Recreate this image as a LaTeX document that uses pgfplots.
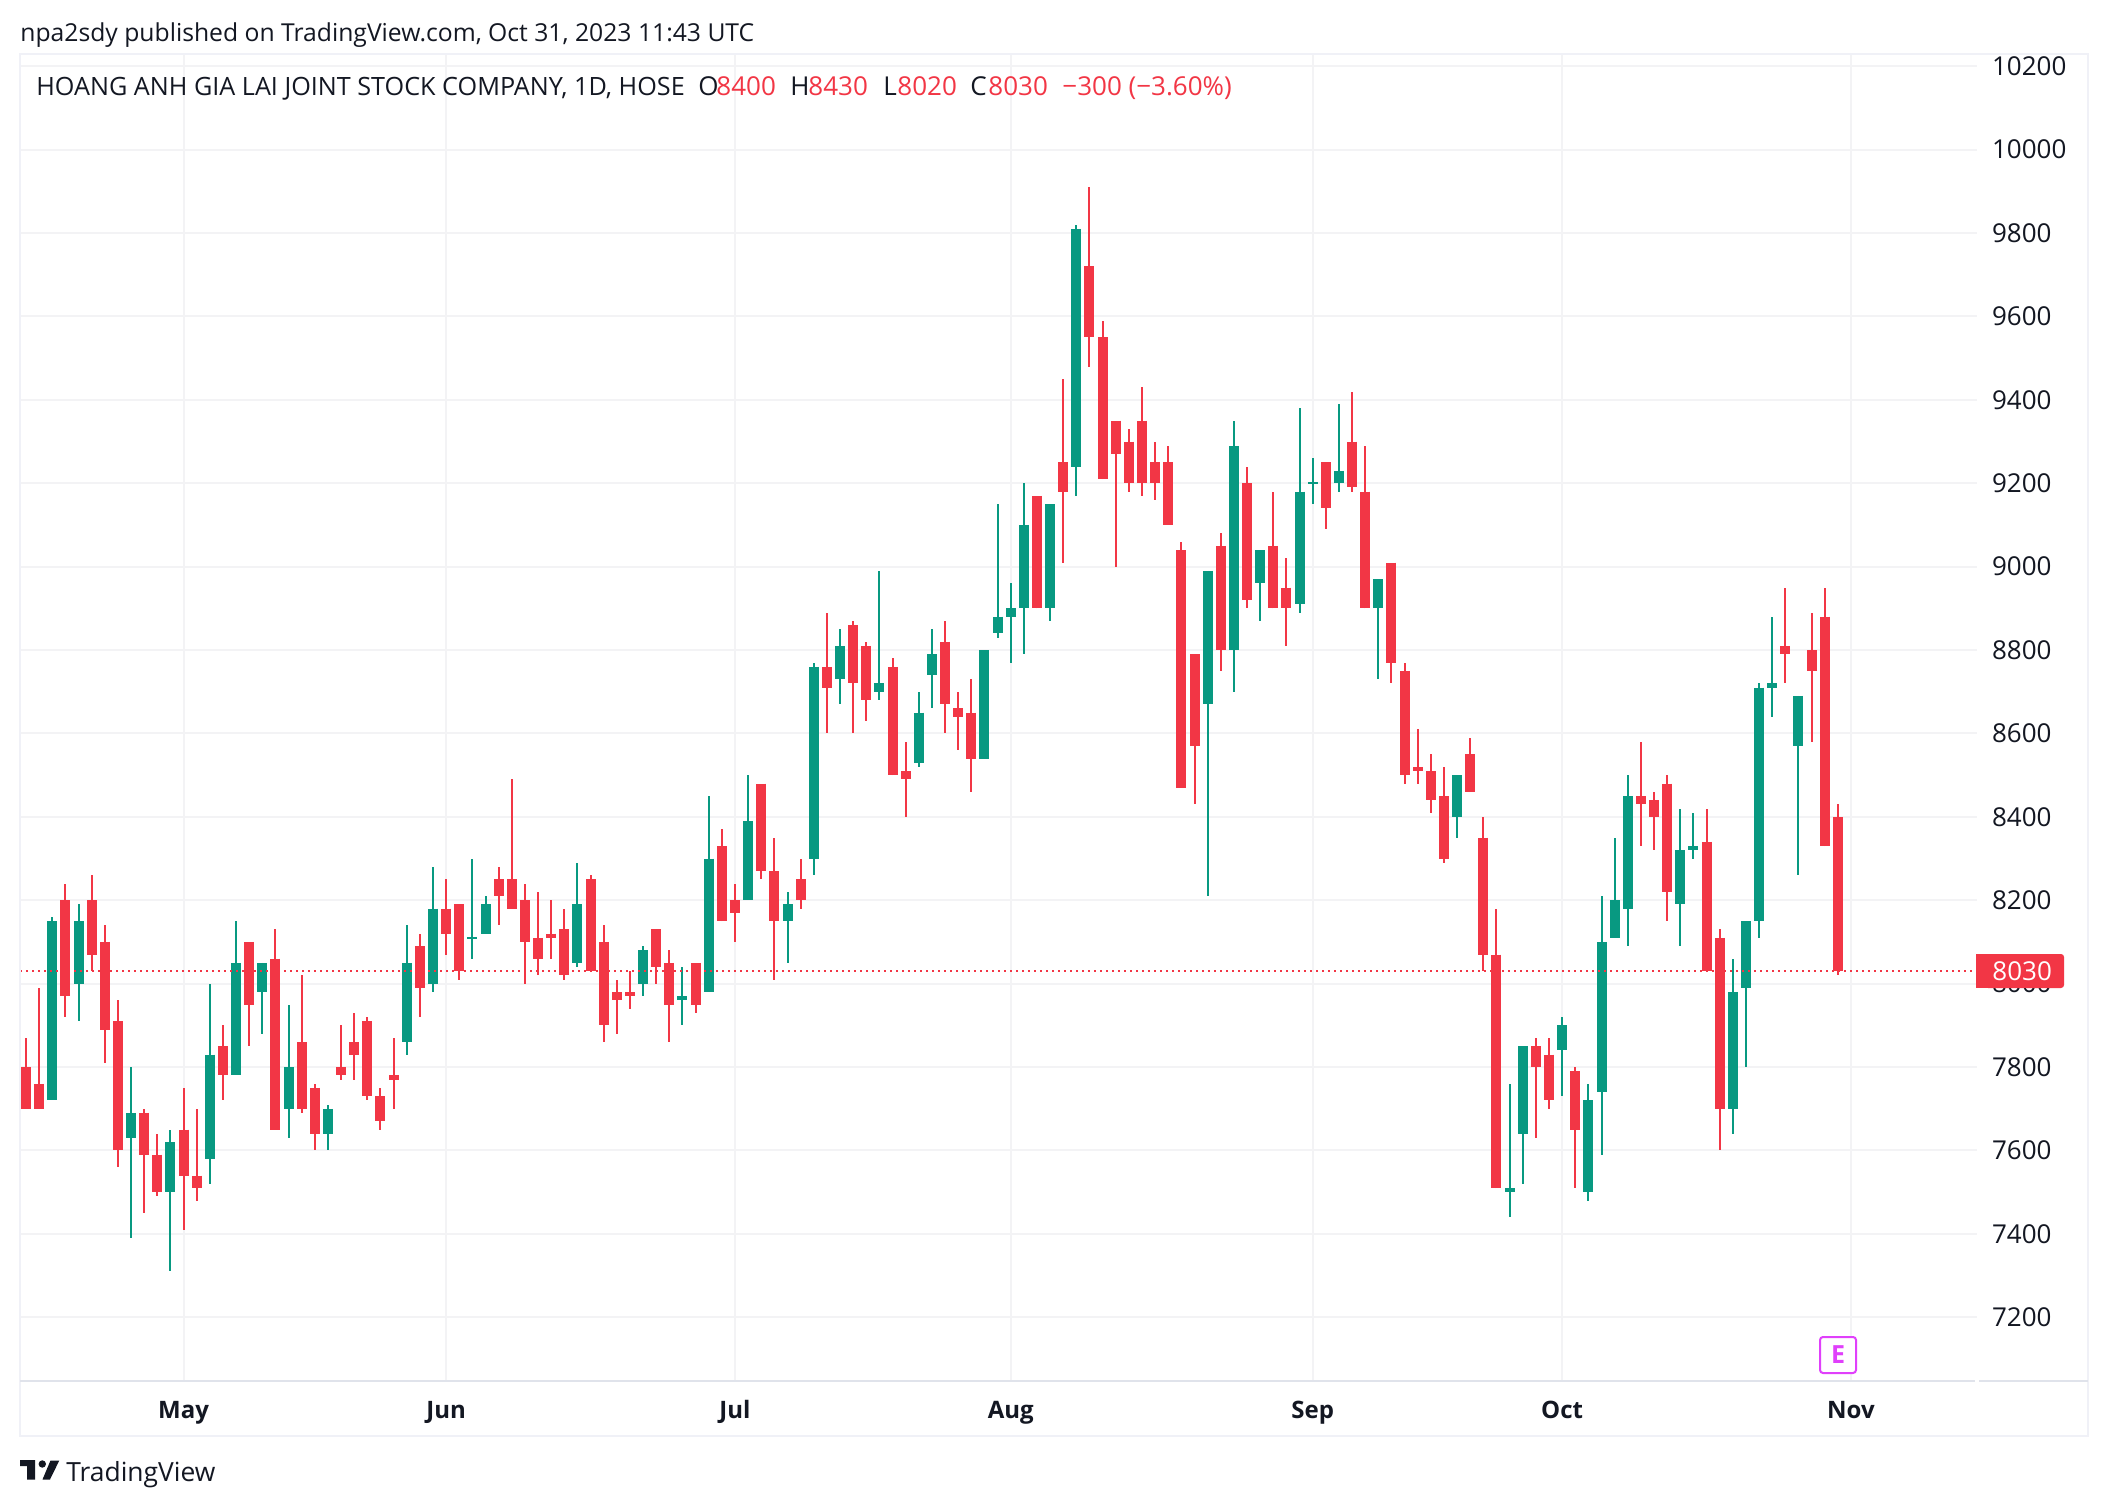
\documentclass[border=0pt]{standalone}
\usepackage{fontspec}
\setmainfont{Open Sans}
\usepackage{pgfplots}
\usepackage{pgfplotstable}
\pgfplotsset{compat=1.18}
\definecolor{cred}{HTML}{F23645}
\definecolor{cgreen}{HTML}{089981}
\definecolor{ctext}{HTML}{131722}
\definecolor{cgrid}{HTML}{F3F3F5}
\definecolor{cframe}{HTML}{F0F1F7}
\definecolor{caxis}{HTML}{E0E3EB}
\definecolor{cmag}{HTML}{E040FB}
% columns: index, open, high, low, close
\pgfplotstableread{
i o h l c
0 7800 7870 7700 7700
1 7760 7990 7700 7700
3 8200 8240 7920 7970
5 8200 8260 8030 8070
6 8100 8140 7810 7890
7 7910 7960 7560 7600
9 7690 7700 7450 7590
10 7590 7640 7490 7500
12 7650 7750 7410 7540
13 7540 7700 7480 7510
15 7850 7900 7720 7780
17 8100 8100 7850 7950
19 8060 8130 7650 7650
21 7860 8020 7690 7700
22 7750 7760 7600 7640
24 7800 7900 7770 7780
25 7860 7930 7770 7830
26 7910 7920 7720 7730
27 7730 7750 7650 7670
28 7780 7870 7700 7770
30 8090 8120 7920 7990
32 8180 8250 8070 8120
33 8190 8190 8010 8030
36 8250 8280 8140 8210
37 8250 8490 8180 8180
38 8200 8240 8000 8100
39 8110 8220 8020 8060
40 8120 8200 8060 8110
41 8130 8180 8010 8020
43 8250 8260 8030 8030
44 8100 8140 7860 7900
45 7980 8010 7880 7960
46 7980 8030 7940 7970
48 8130 8130 8000 8040
49 8050 8080 7860 7950
51 8050 8050 7930 7950
53 8330 8370 8150 8150
54 8200 8240 8100 8170
56 8480 8480 8250 8270
57 8270 8350 8010 8150
59 8250 8300 8180 8200
61 8760 8890 8600 8710
63 8860 8870 8600 8720
64 8810 8820 8630 8680
66 8760 8780 8500 8500
67 8510 8580 8400 8490
70 8820 8870 8600 8670
71 8660 8700 8560 8640
72 8650 8730 8460 8540
77 9170 9170 8900 8900
79 9250 9450 9010 9180
81 9720 9910 9480 9550
82 9550 9590 9210 9210
83 9350 9350 9000 9270
84 9300 9330 9180 9200
85 9350 9430 9170 9200
86 9250 9300 9160 9200
87 9250 9290 9100 9100
88 9040 9060 8470 8470
89 8790 8790 8430 8570
91 9050 9080 8750 8800
93 9200 9240 8900 8920
95 9050 9180 8900 8900
96 8950 9020 8810 8900
99 9250 9250 9090 9140
101 9300 9420 9180 9190
102 9180 9290 8900 8900
104 9010 9010 8720 8770
105 8750 8770 8480 8500
106 8520 8610 8480 8510
107 8510 8550 8410 8440
108 8450 8520 8290 8300
110 8550 8590 8460 8460
111 8350 8400 8030 8070
112 8070 8180 7510 7510
115 7850 7870 7630 7800
116 7830 7870 7700 7720
118 7790 7800 7510 7650
123 8450 8580 8330 8430
124 8440 8460 8320 8400
125 8480 8500 8150 8220
128 8340 8420 8030 8030
129 8110 8130 7600 7700
134 8810 8950 8720 8790
136 8800 8890 8580 8750
137 8880 8950 8330 8330
138 8400 8430 8020 8030
}\redtable
\pgfplotstableread{
i o h l c
2 7720 8160 7720 8150
4 8000 8190 7910 8150
8 7630 7800 7390 7690
11 7500 7650 7310 7620
14 7580 8000 7520 7830
16 7780 8150 7780 8050
18 7980 8050 7880 8050
20 7700 7950 7630 7800
23 7640 7710 7600 7700
29 7860 8140 7830 8050
31 8000 8280 7980 8180
34 8108 8300 8060 8112
35 8120 8210 8120 8190
42 8050 8290 8040 8190
47 8000 8090 7970 8080
50 7960 8040 7900 7970
52 7980 8450 7980 8300
55 8200 8500 8200 8390
58 8150 8220 8050 8190
60 8300 8770 8260 8760
62 8730 8850 8670 8810
65 8700 8990 8680 8720
68 8530 8700 8520 8650
69 8740 8850 8660 8790
73 8540 8800 8540 8800
74 8840 9150 8830 8880
75 8880 8960 8770 8900
76 8900 9200 8790 9100
78 8900 9150 8870 9150
80 9240 9820 9170 9810
90 8670 8990 8210 8990
92 8800 9350 8700 9290
94 8960 9040 8870 9040
97 8910 9380 8890 9180
98 9198 9260 9150 9202
100 9200 9390 9180 9230
103 8900 8970 8730 8970
109 8400 8500 8350 8500
113 7500 7760 7440 7510
114 7640 7850 7520 7850
117 7840 7920 7730 7900
119 7500 7760 7480 7720
120 7740 8210 7590 8100
121 8110 8350 8110 8200
122 8180 8500 8090 8450
126 8190 8420 8090 8320
127 8320 8410 8300 8330
130 7700 8060 7640 7980
131 7990 8150 7800 8150
132 8150 8720 8110 8710
133 8710 8880 8640 8720
135 8570 8690 8260 8690
}\greentable
\newcommand{\fs}[1]{\fontsize{#1}{#1}\selectfont}
\begin{document}
\begin{tikzpicture}
\fill[white] (0,0) rectangle (1054pt,753pt);
\useasboundingbox (0,0) rectangle (1054pt,753pt);
\begin{axis}[
  at={(10pt,62.5pt)}, anchor=south west,
  scale only axis, width=978.5pt, height=663.5pt,
  xmin=-0.457, xmax=148.6, ymin=7047.2, ymax=10229.5,
  axis line style={draw=none},
  tick style={draw=none}, major tick length=0pt,
  grid=major,
  major grid style={draw=cgrid, line width=1pt},
  xtick={12,32,54,75,98,117,139},
  xticklabels={May,Jun,Jul,Aug,Sep,Oct,Nov},
  xticklabel style={font=\fs{12}\bfseries, text=ctext, anchor=base, yshift=-18.7pt},
  ytick={7200,7400,...,10200},
  yticklabel pos=right,
  yticklabel style={font=\fs{13}, text=ctext, anchor=west, xshift=7.5pt,
    /pgf/number format/1000 sep={}, /pgf/number format/assume math mode=true},
  scaled y ticks=false,
  tick label style={inner sep=0pt, outer sep=0pt},
  clip=false,
]
% wicks
\addplot[draw=none, mark=none, forget plot,
  error bars/.cd, y dir=both, y explicit, error mark=none,
  error bar style={draw=cred, line width=1pt, solid}]
  table[x=i, y=c, y error plus expr=\thisrow{h}-\thisrow{c}, y error minus expr=\thisrow{c}-\thisrow{l}] {\redtable};
\addplot[draw=none, mark=none, forget plot,
  error bars/.cd, y dir=both, y explicit, error mark=none,
  error bar style={draw=cgreen, line width=1pt, solid}]
  table[x=i, y=c, y error plus expr=\thisrow{h}-\thisrow{c}, y error minus expr=\thisrow{c}-\thisrow{l}] {\greentable};
% bodies
\addplot[draw=none, mark=none, forget plot,
  error bars/.cd, y dir=minus, y explicit, error mark=none,
  error bar style={draw=cred, line width=5pt, solid}]
  table[x=i, y=o, y error minus expr=\thisrow{o}-\thisrow{c}] {\redtable};
\addplot[draw=none, mark=none, forget plot,
  error bars/.cd, y dir=minus, y explicit, error mark=none,
  error bar style={draw=cgreen, line width=5pt, solid}]
  table[x=i, y=c, y error minus expr=\thisrow{c}-\thisrow{o}] {\greentable};
% last price line
\addplot[cred, line width=1pt, dash pattern=on 1pt off 2pt, forget plot]
  coordinates {(-0.457,8030) (148.6,8030)};
\end{axis}
\begin{scope}[yshift=753pt, x=0.5pt, y=-0.5pt]
  % frame
  \draw[cframe, line width=1pt] (20,54) -- (2088,54) -- (2088,1436) -- (20,1436) -- cycle;
  \draw[caxis, line width=1pt] (20,1381) -- (1975,1381);
  \draw[caxis, line width=1pt] (1979,1381) -- (2088,1381);
  % price label
  \fill[cred, rounded corners=1.5pt] (1985,954) -- (2064,954) -- (2064,988) -- (1985,988) -- cycle;
  \fill[cred] (1976,954) rectangle (1990,988);
  \node[anchor=west, inner sep=0pt, text=white, font=\fs{13}] at (1992,971) {8030};
  % earnings marker
  \draw[cmag, fill=white, line width=1pt, rounded corners=1.5pt] (1820,1337) rectangle (1856,1373);
  \node[inner sep=0pt, text=cmag, font=\fs{12.5}\bfseries] at (1838,1355) {E};
  % header
  \node[anchor=base west, inner sep=0pt, text=ctext, font=\fs{12.35}] at (20,41.5) {npa2sdy published on TradingView.com, Oct 31, 2023 11:43 UTC};
  % legend
  \node[anchor=base west, inner sep=0pt, text=ctext, font=\fs{12.6}] at (36,95.5) {HOANG ANH GIA LAI JOINT STOCK COMPANY, 1D, HOSE};
  \node[anchor=base west, inner sep=0pt, text=ctext, font=\fs{13}] at (698,95.5) {O};
  \node[anchor=base west, inner sep=0pt, text=cred, font=\fs{13}] at (716,95.5) {8400};
  \node[anchor=base west, inner sep=0pt, text=ctext, font=\fs{13}] at (790,95.5) {H};
  \node[anchor=base west, inner sep=0pt, text=cred, font=\fs{13}] at (808,95.5) {8430};
  \node[anchor=base west, inner sep=0pt, text=ctext, font=\fs{13}] at (883,95.5) {L};
  \node[anchor=base west, inner sep=0pt, text=cred, font=\fs{13}] at (897,95.5) {8020};
  \node[anchor=base west, inner sep=0pt, text=ctext, font=\fs{13}] at (970,95.5) {C};
  \node[anchor=base west, inner sep=0pt, text=cred, font=\fs{13}] at (988,95.5) {8030};
  \node[anchor=base west, inner sep=0pt, text=cred, font=\fs{13}] at (1062,95.5) {−300 (−3.60\%)};
  % footer logo
  \fill[ctext] (20,1460) -- (35,1460) -- (35,1479.5) -- (27,1479.5) -- (27,1466) -- (20,1466) -- cycle;
  \fill[ctext] (42.3,1464) circle (3.7);
  \fill[ctext] (50.5,1460.5) -- (59.3,1460.5) -- (50,1479.5) -- (42.5,1479.5) -- cycle;
  \node[anchor=base west, inner sep=0pt, text=ctext, font=\fs{13.2}] at (66,1481) {TradingView};
\end{scope}
\end{tikzpicture}
\end{document}
